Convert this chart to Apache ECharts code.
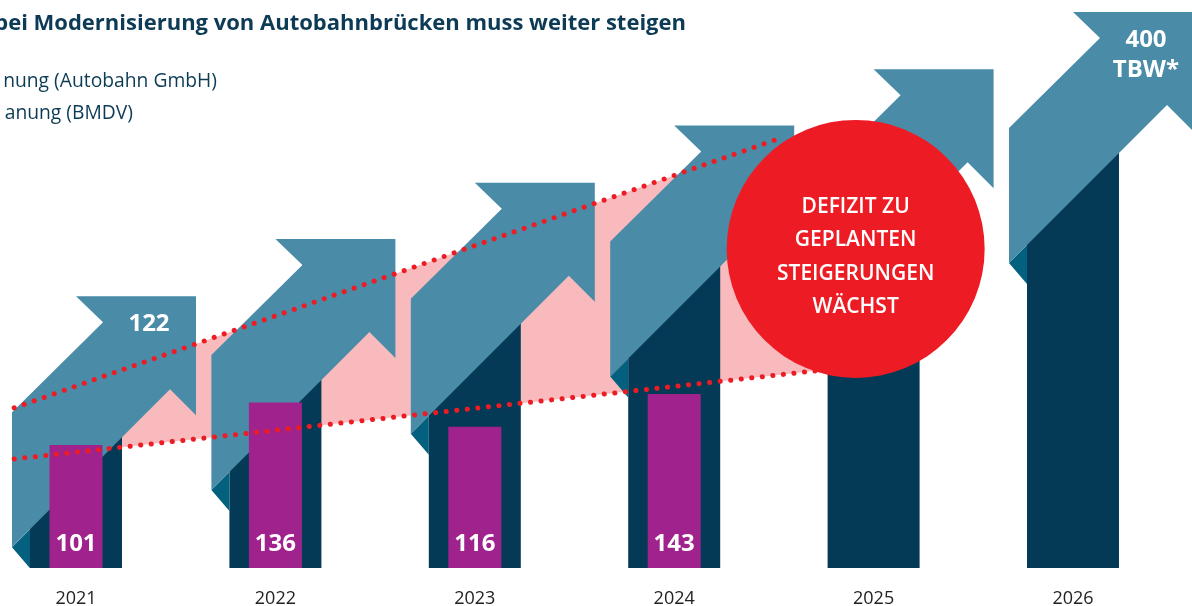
<!DOCTYPE html>
<html>
<head>
<meta charset="utf-8">
<style>
  html, body { margin: 0; padding: 0; background: #fff; }
  #chart { width: 1192px; height: 606px; }
</style>
<script src="https://cdn.jsdelivr.net/npm/echarts@6/dist/echarts.min.js"></script>
</head>
<body>
<div id="chart"></div>
<script>
const years = ['2021', '2022', '2023', '2024', '2025', '2026'];
// Ist-Werte (lila Balken)
const actual = [101, 136, 116, 143];
// Planung (Pfeile), beschriftet sind nur 2021 und 2026
const planned = [122, 178, 233, 289, 344, 400];
const plannedLabels = ['122', '', '', '', '', '400\nTBW*'];
// gepunktete Linien: [Position in Jahren ab 2021, Wert]
const upperTrend = [[-0.31, 131.6], [3.55, 354.4]];
const lowerTrend = [[-0.31, 89.6], [3.85, 164.6]];
// Kreis mit Hinweis
const notePos = [[3.91, 262.3]];
const noteText = 'DEFIZIT ZU\nGEPLANTEN\nSTEIGERUNGEN\nWÄCHST';

const NAVY = '#043a56';
const TEAL = '#4a8ca8';
const FOLD = '#03607f';
const PURPLE = '#a0228c';
const PINK = '#f8babd';
const RED = '#ed1c24';
const TEXT = '#0d3b55';
const FONT = '"Open Sans", "Noto Sans", sans-serif';

const chart = echarts.init(document.getElementById('chart'));

function renderArrow(params, api) {
  const p = api.coord([api.value(0), api.value(1)]);
  const cx = p[0], t = p[1];
  const base = params.coordSys.y + params.coordSys.height;
  const pts = arr => arr.map(d => [cx + d[0], t + d[1]]);
  const children = [
    { type: 'rect', shape: { x: cx - 46, y: t + 120, width: 92, height: base - t - 120 }, style: { fill: NAVY } },
    { type: 'polygon', shape: { points: pts([[-64, 251], [-46, 233], [-46, 272]]) }, style: { fill: FOLD } },
    { type: 'polygon', shape: { points: pts([[0, 0], [120, 0], [120, 119], [94, 93], [-64, 251], [-64, 116], [27, 26]]) }, style: { fill: TEAL } }
  ];
  const label = plannedLabels[params.dataIndex];
  if (label) {
    children.push({
      type: 'text', x: cx + 73, y: t + 13,
      style: { text: label, fill: '#fff', fontSize: 24, fontWeight: 'bold', fontFamily: FONT, align: 'center', verticalAlign: 'top', lineHeight: 30 }
    });
  }
  return { type: 'group', children };
}

// rosa Fläche zwischen den beiden Linien
function renderGap(params, api) {
  const pts = [upperTrend[0], upperTrend[1], lowerTrend[1], lowerTrend[0]].map(d => api.coord(d));
  return { type: 'polygon', shape: { points: pts }, style: { fill: PINK } };
}

// gepunktete Linien (custom, damit sie links über die Achse hinausgehen)
function renderTrend(params, api) {
  const line = params.dataIndex === 0 ? upperTrend : lowerTrend;
  return {
    type: 'polyline',
    shape: { points: line.map(d => api.coord(d)) },
    style: { stroke: RED, lineWidth: 5, lineDash: [0.1, 10.5], lineCap: 'round', fill: null }
  };
}

chart.setOption({
  animation: false,
  title: [
    {
      text: 'bei Modernisierung von Autobahnbrücken muss weiter steigen',
      right: 506, top: 13, padding: 0,
      textStyle: { fontSize: 22, fontWeight: 'bold', color: TEXT, fontFamily: FONT }
    },
    {
      text: 'nung (Autobahn GmbH)', right: 975, top: 72, padding: 0,
      textStyle: { fontSize: 19.3, fontWeight: 'normal', color: TEXT, fontFamily: FONT }
    },
    {
      text: 'anung (BMDV)', right: 1059, top: 104, padding: 0,
      textStyle: { fontSize: 19.3, fontWeight: 'normal', color: TEXT, fontFamily: FONT }
    }
  ],
  grid: { left: 76, right: 119, top: 12, bottom: 38, outerBoundsMode: 'none' },
  xAxis: [
    {
      type: 'category', data: years, boundaryGap: false,
      axisLine: { show: false }, axisTick: { show: false },
      axisLabel: { color: '#222', fontSize: 18, margin: 22, fontFamily: FONT }
    },
    { type: 'value', min: 0, max: 5, show: false }
  ],
  yAxis: [
    { type: 'value', min: 0, max: 457, show: false, splitLine: { show: false } },
    { type: 'value', min: -144, max: 400, show: false, splitLine: { show: false } }
  ],
  series: [
    {
      type: 'custom', xAxisIndex: 1, yAxisIndex: 0, z: 1, silent: true, clip: false,
      data: [[0, 0]], renderItem: renderGap
    },
    {
      type: 'custom', xAxisIndex: 0, yAxisIndex: 1, z: 2, silent: true, clip: false,
      data: planned.map((v, i) => [i, v]), encode: { x: 0, y: 1 }, renderItem: renderArrow
    },
    {
      type: 'bar', xAxisIndex: 0, yAxisIndex: 0, z: 3, silent: true,
      data: actual, barWidth: 53,
      itemStyle: { color: PURPLE },
      label: { show: true, position: 'insideBottom', distance: 12, color: '#fff', fontSize: 24, fontWeight: 'bold', fontFamily: FONT }
    },
    {
      type: 'custom', xAxisIndex: 1, yAxisIndex: 0, z: 4, silent: true, clip: false,
      data: [[0, 0], [0, 0]], renderItem: renderTrend
    },
    {
      type: 'scatter', xAxisIndex: 1, yAxisIndex: 0, z: 5, silent: true, clip: false,
      data: notePos, symbolSize: 258,
      itemStyle: { color: RED, opacity: 1 },
      label: {
        show: true, position: 'inside', formatter: noteText, offset: [0, 8],
        color: '#fff', fontSize: 21, fontWeight: 600, lineHeight: 33.5, fontFamily: FONT
      }
    }
  ]
});
</script>
</body>
</html>
